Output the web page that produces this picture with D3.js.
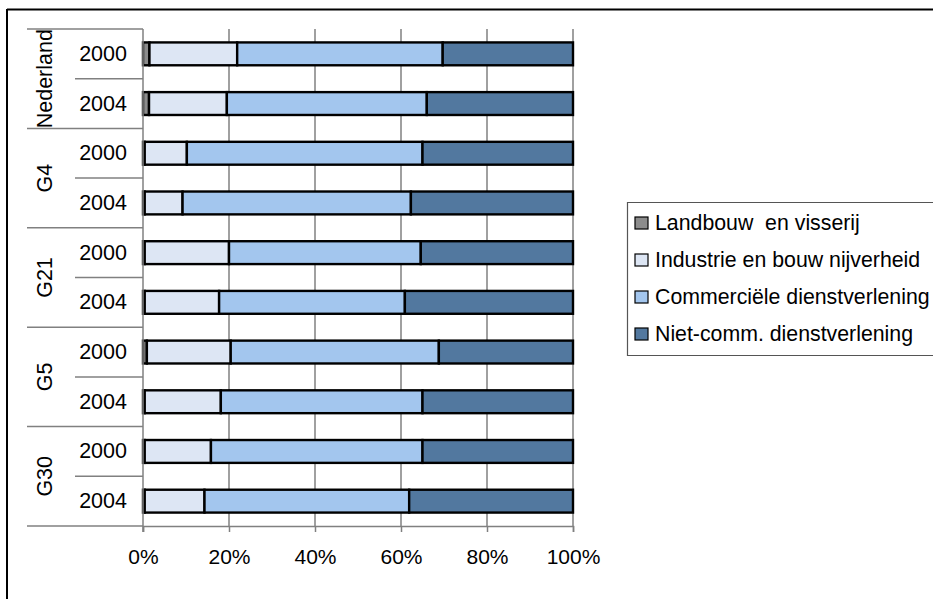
<!DOCTYPE html>
<html>
<head>
<meta charset="utf-8">
<script src="https://cdn.jsdelivr.net/npm/d3@7/dist/d3.min.js"></script>
<style>
  html, body { margin: 0; padding: 0; background: #fff; }
  svg { display: block; font-family: "Liberation Sans", Arial, sans-serif; }
</style>
</head>
<body>
<svg id="chart" width="933" height="599"></svg>
<script>
// ---- data ----
const groups = ["Nederland", "G4", "G21", "G5", "G30"];
const years = ["2000", "2004"];
const seriesNames = ["Landbouw  en visserij", "Industrie en bouw nijverheid", "Commerciële dienstverlening", "Niet-comm. dienstverlening"];
// order of rows: Nederland 2000, Nederland 2004, G4 2000, G4 2004, ...
const landbouw    = [1.5, 1.4, 0.4, 0.4, 0.4, 0.4, 0.9, 0.4, 0.4, 0.4];
const industrie   = [20.4, 18.1, 9.8, 8.8, 19.6, 17.3, 19.5, 17.7, 15.4, 13.9];
const commercieel = [47.8, 46.5, 54.8, 53.1, 44.6, 43.2, 48.4, 46.9, 49.2, 47.6];
const nietcomm    = [30.3, 34.0, 35.0, 37.7, 35.4, 39.1, 31.2, 35.0, 35.0, 38.1];
const tickLabels  = ["0%", "20%", "40%", "60%", "80%", "100%"];
const colors = ["#8c8c8c", "#dde6f4", "#a3c6ee", "#52789f"];

// ---- build table ----
const seriesValues = [landbouw, industrie, commercieel, nietcomm];
const rows = [];
groups.forEach((g, gi) => years.forEach((y, yi) => {
  const i = gi * years.length + yi;
  const r = { id: g + "|" + y, group: g, year: y };
  seriesNames.forEach((s, si) => r[s] = seriesValues[si][i]);
  rows.push(r);
}));
const stacked = d3.stack().keys(seriesNames).offset(d3.stackOffsetExpand)(rows);

const svg = d3.select("#chart");
const plot = { left: 143, right: 573, top: 29, bottom: 526 };

const x = d3.scaleLinear().domain([0, 1]).range([plot.left, plot.right]);
const y = d3.scaleBand().domain(rows.map(r => r.id)).range([plot.top, plot.bottom])
  .paddingInner(0.54).paddingOuter(0.27);
const groupScale = d3.scaleBand().domain(groups).range([plot.top, plot.bottom]);

// outer frame
svg.append("line").attr("x1", 7).attr("x2", 940).attr("y1", 9.5).attr("y2", 9.5)
  .attr("stroke", "#000").attr("stroke-width", 2);
svg.append("line").attr("x1", 7).attr("x2", 7).attr("y1", 9).attr("y2", 610)
  .attr("stroke", "#000").attr("stroke-width", 2);

// gridlines
const ticks = d3.range(0, 1.0001, 0.2);
svg.append("g").selectAll("line").data(ticks.slice(1)).join("line")
  .attr("x1", d => x(d)).attr("x2", d => x(d))
  .attr("y1", plot.top).attr("y2", plot.bottom)
  .attr("stroke", "#808080").attr("stroke-width", 1.5);

// bars
svg.append("g").selectAll("g").data(stacked).join("g")
  .attr("fill", (d, i) => colors[i])
  .selectAll("rect").data(d => d).join("rect")
  .attr("x", d => x(d[0]))
  .attr("width", d => Math.max(0, x(d[1]) - x(d[0])))
  .attr("y", d => y(d.data.id))
  .attr("height", y.bandwidth())
  .attr("stroke", "#000").attr("stroke-width", 2.4);

// x axis
const xAxis = d3.axisBottom(x).tickValues(ticks).tickFormat((d, i) => tickLabels[i])
  .tickSize(6).tickPadding(17);
const xg = svg.append("g").attr("transform", `translate(0,${plot.bottom})`).call(xAxis);
xg.select(".domain").attr("stroke", "#808080").attr("stroke-width", 1.5);
xg.selectAll(".tick line").attr("stroke", "#808080").attr("stroke-width", 1.5);
xg.selectAll(".tick text").attr("font-size", 21).attr("fill", "#000")
  .attr("font-family", "'Liberation Sans', Arial, sans-serif");

// y axis line
svg.append("line").attr("x1", plot.left).attr("x2", plot.left)
  .attr("y1", plot.top).attr("y2", plot.bottom + 6)
  .attr("stroke", "#808080").attr("stroke-width", 1.5);

// category separators
const step = y.step();
const rowBounds = rows.map((r, i) => plot.top + i * step);
svg.append("g").selectAll("line").data(rows).join("line")
  .attr("x1", (d, i) => (i % years.length === 0) ? 27 : 75)
  .attr("x2", plot.left)
  .attr("y1", (d, i) => rowBounds[i]).attr("y2", (d, i) => rowBounds[i])
  .attr("stroke", "#808080").attr("stroke-width", 1.5);
svg.append("line").attr("x1", 27).attr("x2", plot.left)
  .attr("y1", plot.bottom).attr("y2", plot.bottom)
  .attr("stroke", "#808080").attr("stroke-width", 1.5);

// year labels
svg.append("g").selectAll("text").data(rows).join("text")
  .attr("x", 127).attr("y", d => y(d.id) + y.bandwidth() / 2)
  .attr("text-anchor", "end").attr("dominant-baseline", "central")
  .attr("font-size", 21.5).text(d => d.year);

// group labels
svg.append("g").selectAll("text").data(groups).join("text")
  .attr("transform", g => `translate(45,${groupScale(g) + groupScale.bandwidth() / 2}) rotate(-90)`)
  .attr("text-anchor", "middle").attr("dominant-baseline", "central")
  .attr("font-size", 21.5).text(g => g);

// legend
const lg = svg.append("g");
lg.append("path").attr("d", "M940,202.5 H627.5 V355.5 H940")
  .attr("fill", "none").attr("stroke", "#555").attr("stroke-width", 1.2);
const legendY = d3.scalePoint().domain(seriesNames).range([223, 334]);
const items = lg.selectAll("g.item").data(seriesNames).join("g").attr("class", "item")
  .attr("transform", d => `translate(0,${legendY(d)})`);
items.append("rect").attr("x", 635).attr("y", -6).attr("width", 13).attr("height", 12)
  .attr("fill", (d, i) => colors[i]).attr("stroke", "#000").attr("stroke-width", 1.2);
items.append("text").attr("x", 655).attr("y", 0).attr("dominant-baseline", "central")
  .attr("font-size", 21.3).style("white-space", "pre").text(d => d);
</script>
</body>
</html>
